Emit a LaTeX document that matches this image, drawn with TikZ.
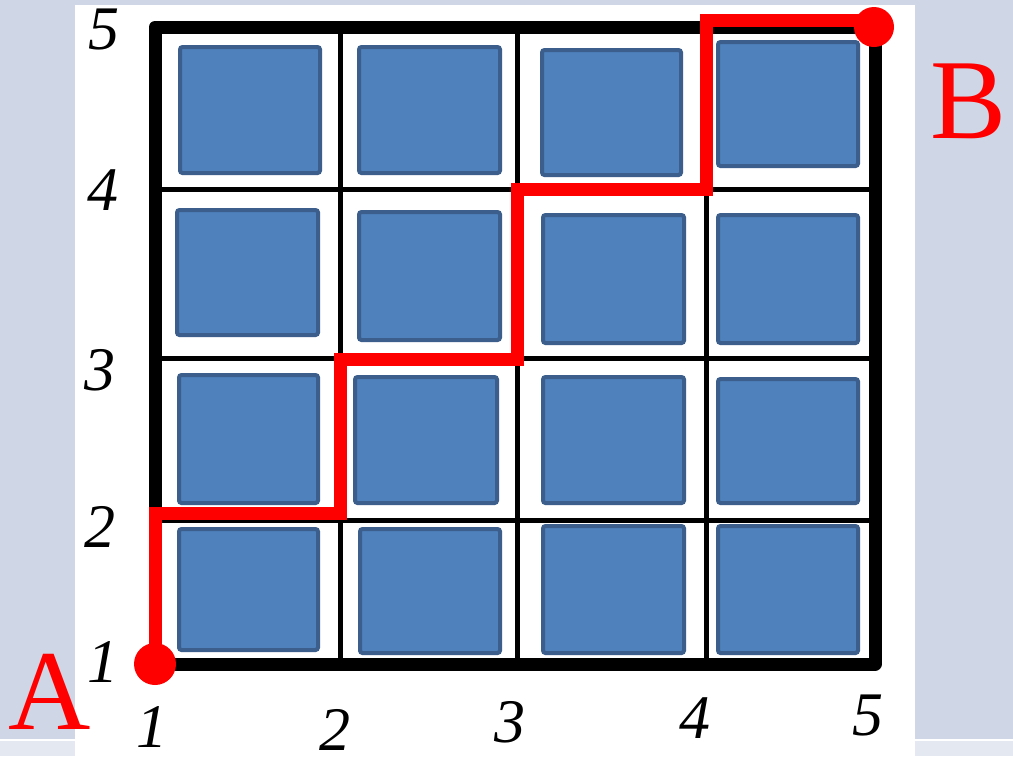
\documentclass[tikz,border=0pt]{standalone}
\usepackage{fontspec}
\setmainfont{Liberation Serif}
\definecolor{bgc}{HTML}{CFD7E6}
\definecolor{bgl}{HTML}{E3E8F1}
\definecolor{sqfill}{HTML}{4F81BD}
\definecolor{sqdraw}{HTML}{3B5E8C}
\definecolor{pathred}{HTML}{FF0000}
\begin{document}
\begin{tikzpicture}[x=1pt,y=-1pt,
  sq/.style={draw=sqdraw, fill=sqfill, line width=4pt, rounded corners=2.5pt, inner sep=0pt},
  gridouter/.style={line width=13pt, line join=round},
  gridinner/.style={line width=5pt},
  route/.style={draw=pathred, line width=13pt},
  dot/.style={circle, fill=pathred, inner sep=0pt},
  num/.style={font=\fontsize{62}{62}\selectfont\itshape, inner sep=0pt},
  pt/.style={font=\fontsize{114}{114}\selectfont, text=pathred, inner sep=0pt}]
\useasboundingbox (0,0) rectangle (1013,756);
% background
\fill[bgc] (0,0) rectangle (1013,756);
\fill[bgl] (0,741) rectangle (75,756);
\fill[bgl] (915,741) rectangle (1013,756);
\fill[white] (0,739) rectangle (75,741);
\fill[white] (915,739) rectangle (1013,741);
\fill[white] (75,5) rectangle (915,756);
% squares
\foreach \n/\a/\b/\c/\d in {
  s11/178/45/322/175, s12/357/45/502/175, s13/540/48/683/177, s14/716/40/860/168,
  s21/175/208/320/337, s22/357/210/502/342, s23/541/213/686/345, s24/716/213/860/345,
  s31/177/373/320/505, s32/353/375/499/505, s33/541/375/686/505, s34/716/377/860/505,
  s41/177/527/320/652, s42/358/527/502/655, s43/541/524/686/655, s44/716/524/860/655}
  \node[sq, minimum width={(\c-\a-4)*1pt}, minimum height={(\d-\b-4)*1pt}] (\n) at ({(\a+\c)/2},{(\b+\d)/2}) {};
% grid
\draw[gridinner] (340,27) -- (340,664);
\draw[gridinner] (517,27) -- (517,664);
\draw[gridinner] (706,27) -- (706,664);
\draw[gridinner] (155,189) -- (875,189);
\draw[gridinner] (155,358) -- (875,358);
\draw[gridinner] (155,520) -- (875,520);
\draw[gridouter] (155,27) rectangle (875,664);
% route
\coordinate (p1) at (155,513);
\coordinate (p2) at (340,513);
\coordinate (p3) at (340,359);
\coordinate (p4) at (517,359);
\coordinate (p5) at (517,189);
\coordinate (p6) at (706,189);
\coordinate (p7) at (706,20);
\node[dot, minimum size=42pt] (dA) at (155,664) {};
\node[dot, minimum size=40pt] (dB) at (874,27) {};
\draw[route] (dA.center) -- (p1) -- (p2) -- (p3) -- (p4) -- (p5) -- (p6) -- (p7) -- (dB.center |- p7);
% labels
\node[num] (l5) at (104,30) {5};
\node[num] (l4) at (103,190) {4};
\node[num] (l3) at (100,370) {3};
\node[num] (l2) at (100,527) {2};
\node[num] (l1) at (103,662) {1};
\node[num] (b1) at (152,727) {1};
\node[num] (b2) at (335,730) {2};
\node[num] (b3) at (510,722) {3};
\node[num] (b4) at (695,718) {4};
\node[num] (b5) at (868,715) {5};
\node[pt] (A) at (50,692) {A};
\node[pt] (B) at (969,101) {B};
\end{tikzpicture}
\end{document}
